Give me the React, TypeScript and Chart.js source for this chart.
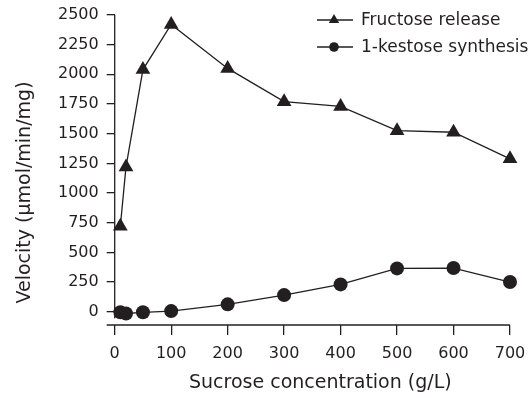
import React, { useEffect, useRef } from "react";
import { Chart, registerables } from "chart.js";

Chart.register(...registerables);

const concentrations = [10, 20, 50, 100, 200, 300, 400, 500, 600, 700];
const fructoseRelease = [720, 1220, 2040, 2420, 2050, 1770, 1730, 1525, 1512, 1288];
const kestoseSynthesis = [-5, -15, -5, 5, 62, 140, 230, 365, 368, 250];
const xTickValues = [0, 100, 200, 300, 400, 500, 600, 700];
const yTickValues = [0, 250, 500, 750, 1000, 1250, 1500, 1750, 2000, 2250, 2500];
const seriesLabels = ["Fructose release", "1-kestose synthesis"];
const xTitle = "Sucrose concentration (g/L)";
const yTitle = "Velocity (\u00b5mol/min/mg)";

const INK = "#231f20";
const FONT = "'DejaVu Sans', sans-serif";
const W = 528;
const H = 398;

function drawTriangle(ctx: CanvasRenderingContext2D, x: number, y: number, r: number) {
  ctx.beginPath();
  let a = 0;
  for (let i = 0; i < 3; i++) {
    const px = x + Math.sin(a) * r;
    const py = y - Math.cos(a) * r;
    if (i === 0) ctx.moveTo(px, py);
    else ctx.lineTo(px, py);
    a += (2 * Math.PI) / 3;
  }
  ctx.closePath();
  ctx.fill();
}

const decorPlugin = {
  id: "decor",
  afterDraw(chart: any) {
    const { ctx, chartArea, scales } = chart;
    const xs = scales.x;
    const ys = scales.y;
    ctx.save();
    ctx.strokeStyle = INK;
    ctx.fillStyle = INK;
    ctx.lineWidth = 1.3;
    // y axis line
    const x0 = xs.getPixelForValue(0);
    ctx.beginPath();
    ctx.moveTo(x0, ys.getPixelForValue(2500));
    ctx.lineTo(x0, ys.getPixelForValue(-55));
    ctx.stroke();
    // x axis line
    ctx.beginPath();
    ctx.moveTo(chartArea.left - 8, chartArea.bottom);
    ctx.lineTo(xs.getPixelForValue(700), chartArea.bottom);
    ctx.stroke();

    // axis titles
    ctx.font = `19px ${FONT}`;
    ctx.textAlign = "center";
    ctx.textBaseline = "middle";
    ctx.fillText(xTitle, (chartArea.left + chartArea.right) / 2 + 8, 383);
    ctx.save();
    ctx.translate(25, 192.5);
    ctx.rotate(-Math.PI / 2);
    ctx.fillText(yTitle, 0, 0);
    ctx.restore();

    // legend
    ctx.font = `17px ${FONT}`;
    ctx.textAlign = "left";
    const rows = [20, 47];
    rows.forEach((ry, i) => {
      ctx.beginPath();
      ctx.moveTo(317, ry);
      ctx.lineTo(353, ry);
      ctx.lineWidth = 1.3;
      ctx.stroke();
      if (i === 0) drawTriangle(ctx, 334, ry, 6);
      else {
        ctx.beginPath();
        ctx.arc(334, ry, 4.8, 0, Math.PI * 2);
        ctx.fill();
      }
      ctx.fillText(seriesLabels[i], 361, ry + 1);
    });
    ctx.restore();
  },
};

export default function App() {
  const canvasRef = useRef<HTMLCanvasElement | null>(null);

  useEffect(() => {
    if (!canvasRef.current) return;
    const chart = new Chart(canvasRef.current, {
      type: "line",
      data: {
        datasets: [
          {
            label: seriesLabels[0],
            data: concentrations.map((x, i) => ({ x, y: fructoseRelease[i] })),
            borderColor: INK,
            backgroundColor: INK,
            borderWidth: 1.3,
            pointStyle: "triangle",
            pointRadius: 8.5,
            pointBorderWidth: 0,
            tension: 0,
            clip: false,
          },
          {
            label: seriesLabels[1],
            data: concentrations.map((x, i) => ({ x, y: kestoseSynthesis[i] })),
            borderColor: INK,
            backgroundColor: INK,
            borderWidth: 1.3,
            pointStyle: "circle",
            pointRadius: 7,
            pointBorderWidth: 0,
            tension: 0,
            clip: false,
          },
        ],
      },
      options: {
        animation: false,
        responsive: false,
        maintainAspectRatio: false,
        devicePixelRatio: 1,
        layout: { padding: { top: 15, right: 18, left: 0, bottom: 0 } },
        plugins: {
          legend: { display: false },
          tooltip: { enabled: false },
        },
        scales: {
          x: {
            type: "linear",
            min: 0,
            max: 700,
            afterBuildTicks: (s: any) => {
              s.ticks = xTickValues.map((v) => ({ value: v }));
            },
            afterFit: (s: any) => {
              s.height = 73;
              s.paddingLeft = 0;
              s.paddingRight = 0;
            },
            grid: {
              display: true,
              drawOnChartArea: false,
              drawTicks: true,
              tickLength: 10,
              color: INK,
              lineWidth: 1.3,
            },
            border: { display: false },
            ticks: {
              padding: 9,
              color: INK,
              font: { family: FONT, size: 16 },
              maxRotation: 0,
              callback: (v: any) => String(v),
            },
          },
          y: {
            type: "linear",
            min: -112,
            max: 2500,
            afterBuildTicks: (s: any) => {
              s.ticks = yTickValues.map((v) => ({ value: v }));
            },
            afterFit: (s: any) => {
              s.width = 114.7;
              s.paddingTop = 0;
              s.paddingBottom = 0;
            },
            grid: {
              display: true,
              drawOnChartArea: false,
              drawTicks: true,
              tickLength: 8,
              color: INK,
              lineWidth: 1.3,
            },
            border: { display: false },
            ticks: {
              padding: 8,
              color: INK,
              font: { family: FONT, size: 16 },
              callback: (v: any) => String(v),
            },
          },
        },
      },
      plugins: [decorPlugin],
    });
    return () => chart.destroy();
  }, []);

  return (
    <div style={{ position: "fixed", left: 0, top: 0, width: W, height: H }}>
      <canvas ref={canvasRef} width={W} height={H} style={{ display: "block", width: W, height: H }} />
    </div>
  );
}
